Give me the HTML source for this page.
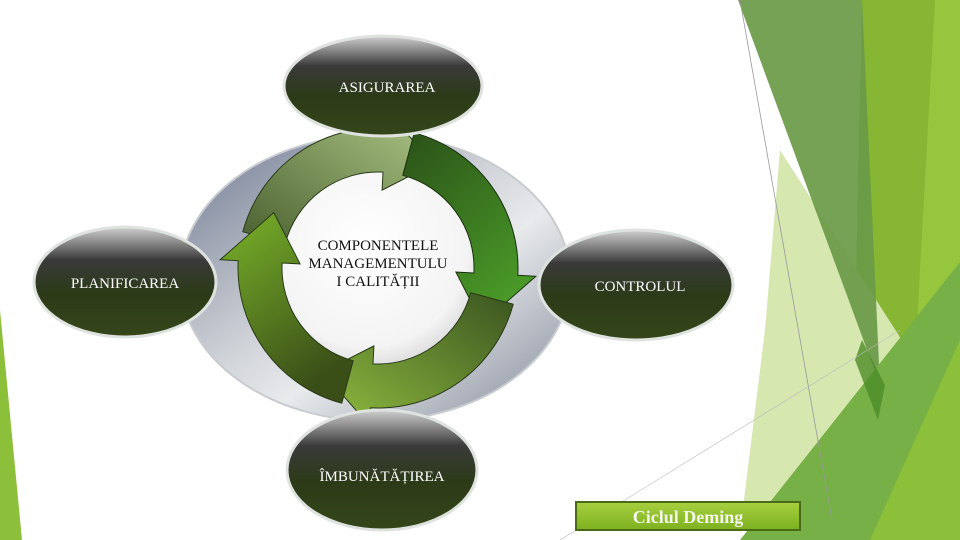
<!DOCTYPE html>
<html><head><meta charset="utf-8"><style>
html,body{margin:0;padding:0;background:#fff;}
svg{display:block;}
text{font-family:"Liberation Serif",serif;}
</style></head><body>
<svg width="960" height="540" viewBox="0 0 960 540" xmlns="http://www.w3.org/2000/svg">
<defs>
<linearGradient id="ring" x1="0" y1="0" x2="1" y2="1">
<stop offset="0" stop-color="#6e7890"/><stop offset="0.45" stop-color="#d0d3d8"/><stop offset="0.6" stop-color="#e8eaec"/><stop offset="1" stop-color="#808898"/>
</linearGradient>
<radialGradient id="inner" cx="0.45" cy="0.4" r="0.6">
<stop offset="0" stop-color="#ffffff"/><stop offset="0.7" stop-color="#f4f4f4"/><stop offset="1" stop-color="#c8c8cc"/>
</radialGradient>
<linearGradient id="node" x1="0" y1="0" x2="0" y2="1">
<stop offset="0" stop-color="#d0d0d0"/><stop offset="0.3" stop-color="#3a3a3a"/><stop offset="0.6" stop-color="#2c3a18"/><stop offset="1" stop-color="#35461a"/>
</linearGradient>
<linearGradient id="gTop" x1="0" y1="1" x2="1" y2="0"><stop offset="0" stop-color="#4a6030"/><stop offset="1" stop-color="#b0c888"/></linearGradient>
<linearGradient id="gRight" x1="0" y1="0" x2="0.6" y2="1"><stop offset="0" stop-color="#2a5018"/><stop offset="1" stop-color="#4a9a28"/></linearGradient>
<linearGradient id="gBot" x1="1" y1="0" x2="0" y2="1"><stop offset="0" stop-color="#3a5420"/><stop offset="1" stop-color="#90bc40"/></linearGradient>
<linearGradient id="gLeft" x1="0" y1="0" x2="0.5" y2="1"><stop offset="0" stop-color="#7ab42a"/><stop offset="1" stop-color="#3a4e18"/></linearGradient>
<linearGradient id="btn" x1="0" y1="0" x2="0" y2="1"><stop offset="0" stop-color="#a8d040"/><stop offset="1" stop-color="#7cb020"/></linearGradient>
</defs>

<!-- background shapes -->
<polygon points="0,310 22,540 0,540" fill="#8dc03a"/>
<polygon points="862,0 960,0 960,540 850,540" fill="#86b633"/>
<polygon points="935,0 960,0 960,540 905,540" fill="#96c53e"/>
<polygon points="780,150 905,345 860,430 740,532 765,330" fill="#d6e7b0"/>
<polygon points="738,0 862,0 880,385" fill="#6a9a48" opacity="0.92"/>
<polygon points="740,540 960,262 960,540" fill="#76b046"/>
<polygon points="870,540 960,340 960,540" fill="#8cc03a"/>
<polygon points="862,340 885,385 878,420 855,360" fill="#4e8c28" opacity="0.8"/>
<line x1="740" y1="0" x2="832" y2="520" stroke="#999" stroke-width="0.8"/>
<line x1="560" y1="540" x2="900" y2="330" stroke="#bbb" stroke-width="0.6"/>

<!-- main ring -->
<ellipse cx="375" cy="278" rx="195" ry="143" fill="url(#ring)" stroke="#c8ccd0" stroke-width="2"/>
<circle cx="378" cy="270" r="120" fill="url(#inner)"/>

<!-- arrows -->
<path d="M242.8,231.8 A140 140 0 0 1 385.3,128.2 L386.3,110.2 L433.4,163.8 L382.1,190.1 L383.0,172.1 A96 96 0 0 0 285.3,243.2 Z" fill="url(#gTop)" stroke="#2a3a18" stroke-width="1"/>
<path d="M414.2,132.8 A140 140 0 0 1 517.8,275.3 L535.8,276.3 L482.2,323.4 L455.9,272.1 L473.9,273.0 A96 96 0 0 0 402.8,175.3 Z" fill="url(#gRight)" stroke="#1a3010" stroke-width="1"/>
<path d="M513.2,304.2 A140 140 0 0 1 370.7,407.8 L369.7,425.8 L322.6,372.2 L373.9,345.9 L373.0,363.9 A96 96 0 0 0 470.7,292.8 Z" fill="url(#gBot)" stroke="#2a3a18" stroke-width="1"/>
<path d="M341.8,403.2 A140 140 0 0 1 238.2,260.7 L220.2,259.7 L273.8,212.6 L300.1,263.9 L282.1,263.0 A96 96 0 0 0 353.2,360.7 Z" fill="url(#gLeft)" stroke="#2a3a18" stroke-width="1"/>

<text x="378" y="250" text-anchor="middle" font-size="15" fill="#111">COMPONENTELE</text>
<text x="378" y="268" text-anchor="middle" font-size="15" fill="#111">MANAGEMENTULU</text>
<text x="378" y="286" text-anchor="middle" font-size="15" fill="#111">I  CALITĂȚII</text>

<!-- nodes -->
<ellipse cx="383" cy="86" rx="99" ry="50" fill="url(#node)" stroke="#dfe3df" stroke-width="3"/>
<text x="387" y="92" text-anchor="middle" font-size="15" fill="#fff">ASIGURAREA</text>
<ellipse cx="125" cy="282" rx="91" ry="55" fill="url(#node)" stroke="#dfe3df" stroke-width="3"/>
<text x="125" y="288" text-anchor="middle" font-size="15" fill="#fff">PLANIFICAREA</text>
<ellipse cx="636" cy="285" rx="97" ry="55" fill="url(#node)" stroke="#dfe3df" stroke-width="3"/>
<text x="640" y="291" text-anchor="middle" font-size="15" fill="#fff">CONTROLUL</text>
<ellipse cx="382" cy="470" rx="95" ry="60" fill="url(#node)" stroke="#dfe3df" stroke-width="3"/>
<text x="382" y="481" text-anchor="middle" font-size="15" fill="#fff">ÎMBUNĂTĂȚIREA</text>

<!-- button -->
<rect x="576" y="502" width="224" height="28" fill="url(#btn)" stroke="#4a6a18" stroke-width="2"/>
<text x="688" y="523" text-anchor="middle" font-size="18" font-weight="bold" fill="#f4f8e8">Ciclul Deming</text>
</svg>
</body></html>
